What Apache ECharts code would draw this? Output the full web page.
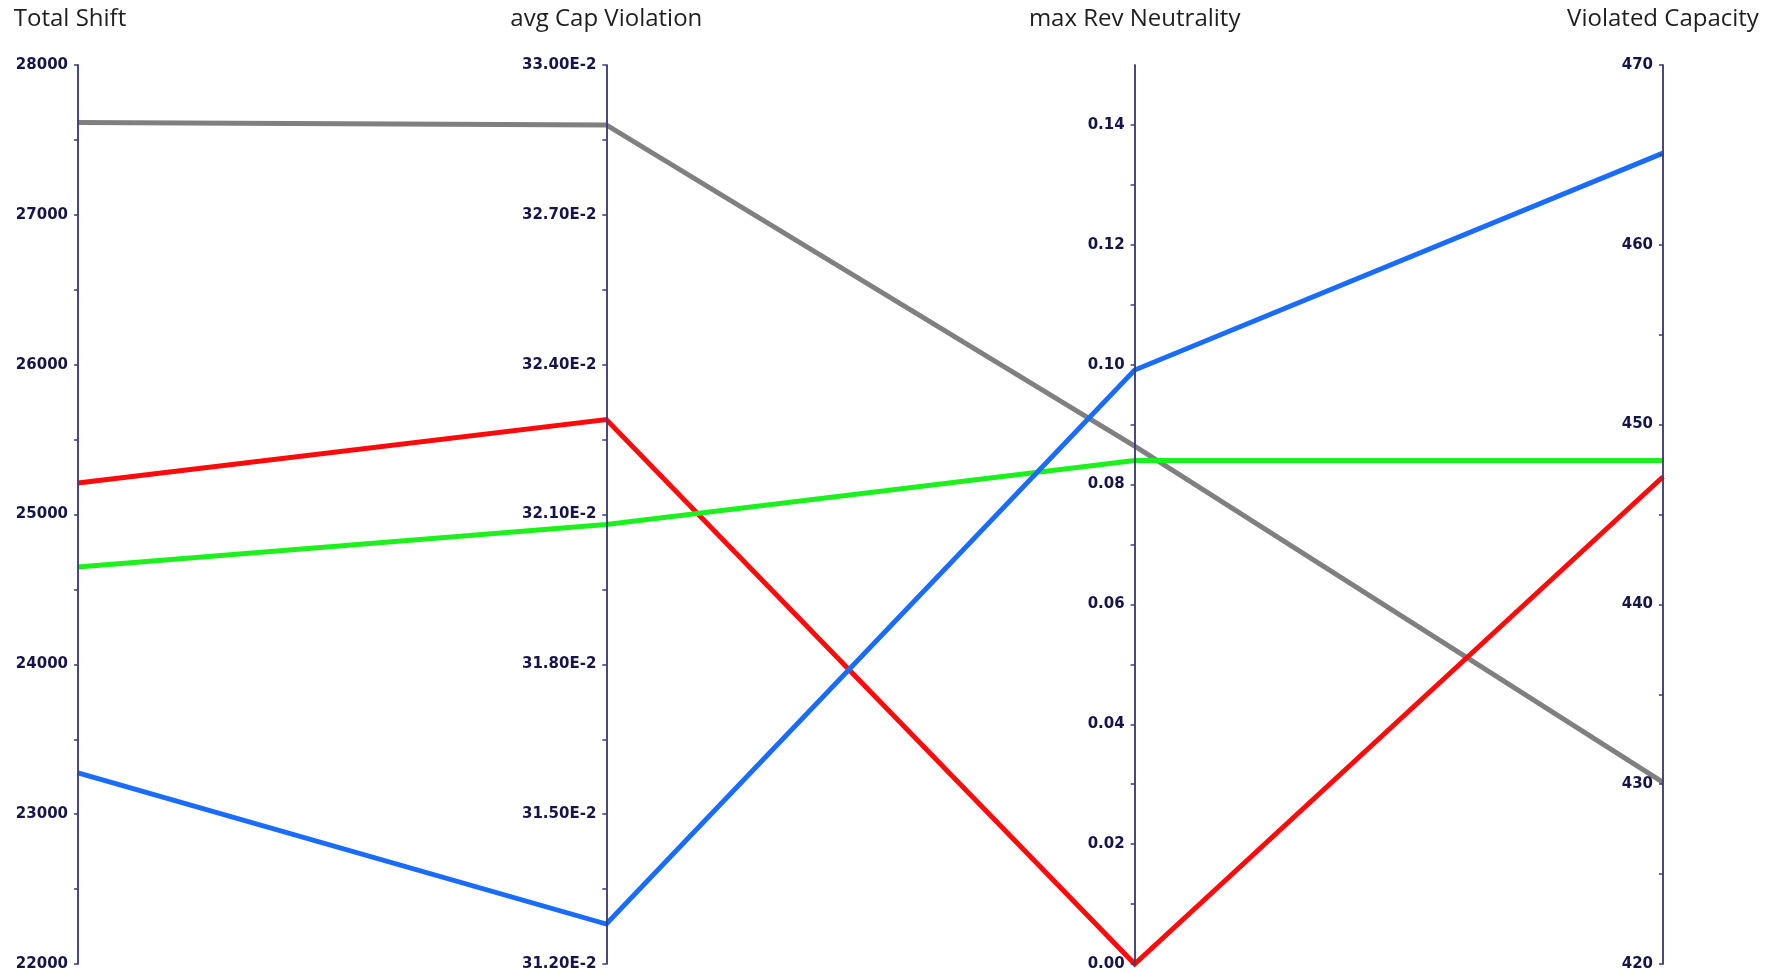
<!DOCTYPE html>
<html>
<head>
<meta charset="utf-8">
<script src="https://cdn.jsdelivr.net/npm/echarts@6/dist/echarts.min.js"></script>
<style>html,body{margin:0;padding:0;background:#fff}#c{width:1773px;height:978px}</style>
</head>
<body>
<div id="c"></div>
<script>
const dimensions = ['Total Shift', 'avg Cap Violation', 'max Rev Neutrality', 'Violated Capacity'];
const gray  = [27616, 0.3288, 0.0864, 430.1];
const red   = [25210, 0.3229, 0.0000, 447.1];
const green = [24650, 0.3208, 0.0840, 448.0];
const blue  = [23275, 0.3128, 0.0991, 465.1];
const axisMin = [22000, 0.312, 0, 420];
const axisMax = [28000, 0.330, 0.15, 470];
const minorStep = [500, 0.0015, 0.01, 5];
const majorStep = [1000, 0.003, 0.02, 10];

const labelFmt = [
  v => String(Math.round(v)),
  v => (v * 100).toFixed(2) + 'E-2',
  v => v.toFixed(2),
  v => String(Math.round(v))
];

const chart = echarts.init(document.getElementById('c'));
const axisColor = '#3c3c7c';
const mainAxes = dimensions.map((name, i) => ({
  dim: i,
  parallelIndex: 0,
  name: name,
  type: 'value',
  min: axisMin[i],
  max: axisMax[i],
  interval: minorStep[i],
  nameLocation: 'end',
  nameGap: 34,
  nameTextStyle: {
    fontFamily: 'Open Sans',
    fontSize: 24,
    color: '#1e1e1e',
    padding: i === 0 ? [0, 16, 0, 0] : 0
  },
  axisLine: { lineStyle: { color: axisColor, width: 1.5 } },
  axisTick: { show: true, length: -4, lineStyle: { color: axisColor, width: 1.5 } },
  splitLine: { show: false },
  axisLabel: {
    color: '#15154a',
    fontFamily: 'DejaVu Sans',
    fontWeight: 'bold',
    fontSize: 15,
    margin: -10,
    align: 'right',
    showMaxLabel: i !== 2,
    formatter: function (v) {
      const k = (v - axisMin[i]) / majorStep[i];
      if (Math.abs(k - Math.round(k)) > 1e-6) return '';
      return labelFmt[i](v);
    }
  }
}));
const tickAxes = dimensions.map((name, i) => ({
  dim: i,
  parallelIndex: 1,
  name: '',
  type: 'value',
  min: axisMin[i],
  max: axisMax[i],
  interval: minorStep[i],
  axisLine: { lineStyle: { color: axisColor, width: 1.5 } },
  axisTick: { show: true, length: 4, lineStyle: { color: axisColor, width: 1.5 } },
  splitLine: { show: false },
  axisLabel: { show: false }
}));

const mk = (data, color) => ({
  type: 'parallel',
  parallelIndex: 0,
  data: [data],
  lineStyle: { color: color, width: 5, opacity: 1 },
  emphasis: { disabled: true },
  silent: true,
  z: 1
});

const layout = { left: 78, right: 110, top: 65, bottom: 14, z: 5 };
chart.setOption({
  backgroundColor: '#fff',
  animation: false,
  parallel: [Object.assign({}, layout), Object.assign({}, layout)],
  parallelAxis: mainAxes.concat(tickAxes),
  series: [
    mk(gray, '#808080'),
    mk(red, '#ff0a0a'),
    mk(green, '#1ef01e'),
    mk(blue, '#1a6cff')
  ]
});
</script>
</body>
</html>
